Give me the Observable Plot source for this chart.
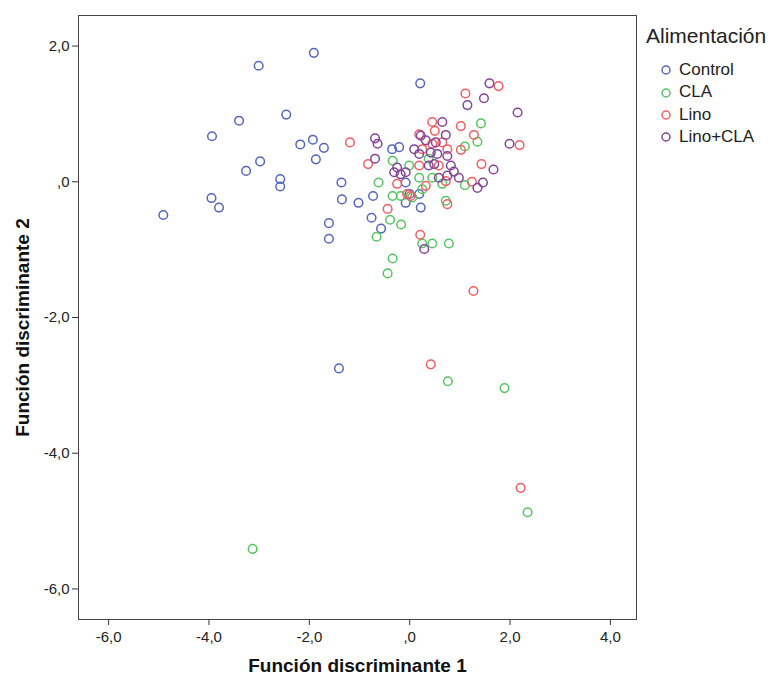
<!DOCTYPE html>
<html>
<head>
<meta charset="utf-8">
<script src="https://cdn.jsdelivr.net/npm/d3@7"></script>
<script src="https://cdn.jsdelivr.net/npm/@observablehq/plot@0.6"></script>
<style>
  body { margin: 0; background: #fff; font-family: "Liberation Sans", Arial, sans-serif; }
  #wrap { position: relative; width: 772px; height: 677px; }
  #legend { position: absolute; left: 646px; top: 22px; color: #222; }
  #legend .title { font-size: 21px; line-height: 28px; height: 37px; }
  #legend .item { font-size: 17px; height: 22.4px; line-height: 22.4px; display: flex; align-items: center; padding-left: 14px; }
  #legend svg { margin-right: 7px; }
</style>
</head>
<body>
<div id="wrap"><div id="legend"></div></div>
<script>
const groups = ["Control", "CLA", "Lino", "Lino+CLA"];
const colors = ["#5467bd", "#55c560", "#f25e62", "#84449a"];
const xTicks = [-6, -4, -2, 0, 2, 4];
const yTicks = [2, 0, -2, -4, -6];
const xTickLabels = ["-6,0", "-4,0", "-2,0", ",0", "2,0", "4,0"];
const yTickLabels = ["2,0", ",0", "-2,0", "-4,0", "-6,0"];
const xTitle = "Función discriminante 1";
const yTitle = "Función discriminante 2";
const legendTitle = "Alimentación";

const control = [[-1.91,1.90],[-3.01,1.71],[0.21,1.45],[-3.40,0.90],[-2.46,0.99],[-3.94,0.67],[-2.18,0.55],[-1.93,0.62],[-1.71,0.50],[-1.87,0.33],[-2.98,0.30],[-3.26,0.16],[-2.58,0.04],[-2.58,-0.07],[-4.91,-0.49],[-3.95,-0.24],[-3.80,-0.38],[-1.61,-0.61],[-1.61,-0.84],[-1.36,-0.01],[-1.35,-0.26],[-1.02,-0.31],[-0.73,-0.21],[-0.76,-0.53],[-0.57,-0.69],[-1.41,-2.75],[-0.35,0.48],[-0.21,0.51],[0.22,-0.38],[-0.08,-0.01],[-0.08,-0.31],[0.19,-0.18],[0.0,-0.18]];
const cla = [[-0.62,-0.01],[-0.66,-0.81],[-0.34,0.31],[-0.39,-0.56],[-0.17,-0.63],[-0.34,-1.13],[-0.44,-1.35],[0.25,-0.91],[0.45,-0.91],[0.78,-0.91],[-0.34,-0.21],[-0.18,-0.21],[0.05,-0.23],[-0.01,0.24],[0.19,0.06],[0.45,0.06],[0.65,-0.03],[0.25,-0.11],[0.72,-0.28],[0.38,0.34],[1.42,0.86],[1.35,0.59],[1.10,0.52],[1.10,-0.05],[0.76,-2.94],[1.89,-3.04],[2.35,-4.87],[-3.13,-5.41]];
const lino = [[-1.19,0.58],[-0.83,0.26],[-0.44,-0.40],[0.21,-0.78],[-0.25,-0.03],[-0.05,-0.18],[0.02,-0.21],[0.19,0.24],[0.32,-0.06],[0.58,0.24],[0.75,-0.33],[0.19,0.70],[0.45,0.88],[0.50,0.75],[0.45,0.56],[0.65,0.58],[0.25,0.48],[0.75,0.48],[0.72,0.01],[1.11,1.30],[1.77,1.41],[1.02,0.82],[1.28,0.69],[1.02,0.47],[2.19,0.54],[1.43,0.26],[1.24,0.00],[1.27,-1.61],[0.42,-2.69],[2.21,-4.51]];
const linoCla = [[-0.69,0.34],[-0.69,0.64],[-0.64,0.56],[0.09,0.48],[0.22,0.68],[0.65,0.88],[0.72,0.69],[0.32,0.61],[0.52,0.58],[0.42,0.43],[0.55,0.41],[0.75,0.38],[-0.25,0.21],[0.38,0.24],[0.82,0.24],[-0.31,0.14],[-0.18,0.11],[-0.08,0.14],[0.58,0.06],[0.75,0.09],[0.88,0.15],[0.98,0.06],[0.29,-0.99],[1.59,1.45],[1.48,1.23],[1.15,1.13],[2.15,1.02],[1.99,0.56],[1.67,0.18],[1.46,-0.01],[1.35,-0.09],[0.49,0.26],[0.19,0.41]];

const series = [control, cla, lino, linoCla];
const data = series.flatMap((arr, i) => arr.map(([x, y]) => ({x, y, g: groups[i]})));

const fmtX = d => xTickLabels[xTicks.indexOf(d)];
const fmtY = d => yTickLabels[yTicks.indexOf(d)];

const chart = Plot.plot({
  width: 772,
  height: 677,
  marginLeft: 78,
  marginRight: 136,
  marginTop: 15,
  marginBottom: 58,
  style: { fontFamily: "'Liberation Sans', Arial, sans-serif", fontSize: "15px", color: "#222", background: "#fff" },
  x: { domain: [-6.6, 4.52] },
  y: { domain: [-6.45, 2.45] },
  color: { domain: groups, range: colors },
  marks: [
    Plot.axisX({ ticks: xTicks, tickFormat: fmtX, tickSize: 6, tickPadding: 6, label: null, stroke: "#333", fontSize: 15 }),
    Plot.axisY({ ticks: yTicks, tickFormat: fmtY, tickSize: 6, tickPadding: 3, label: null, stroke: "#333", fontSize: 15 }),
    Plot.frame({ stroke: "#444" }),
    Plot.dot(data, { x: "x", y: "y", stroke: "g", r: 4.3, strokeWidth: 1.5, fill: "none" }),
    Plot.text([xTitle], { frameAnchor: "bottom", dy: 52, text: d => d, fontWeight: "bold", fontSize: 19, fill: "#111" }),
    Plot.text([yTitle], { frameAnchor: "left", textAnchor: "middle", dx: -56, dy: 10, rotate: -90, text: d => d, fontWeight: "bold", fontSize: 19, fill: "#111" })
  ]
});
document.getElementById("wrap").prepend(chart);

const legend = document.getElementById("legend");
const t = document.createElement("div");
t.className = "title";
t.textContent = legendTitle;
legend.appendChild(t);
groups.forEach((g, i) => {
  const item = document.createElement("div");
  item.className = "item";
  item.innerHTML = `<svg width="12" height="12"><circle cx="6" cy="6" r="4" fill="none" stroke="${colors[i]}" stroke-width="1.5"/></svg><span>${g}</span>`;
  legend.appendChild(item);
});
</script>
</body>
</html>
